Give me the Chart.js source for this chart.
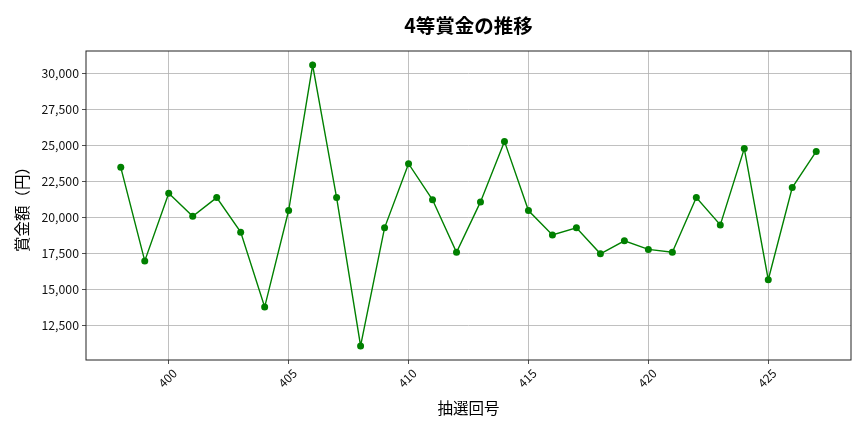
<!DOCTYPE html>
<html>
<head>
<meta charset="utf-8">
<script src="https://cdn.jsdelivr.net/npm/chart.js@4/dist/chart.umd.min.js"></script>
<style>
  html, body { margin: 0; padding: 0; background: #fff; }
  #wrap { width: 864px; height: 432px; }
</style>
</head>
<body>
<div id="wrap"><canvas id="prizeChart"></canvas></div>
<script>
const rounds = [398, 399, 400, 401, 402, 403, 404, 405, 406, 407,
                408, 409, 410, 411, 412, 413, 414, 415, 416, 417,
                418, 419, 420, 421, 422, 423, 424, 425, 426, 427];
const prizes = [23500, 17000, 21700, 20100, 21400, 19000, 13800, 20500, 30600, 21400,
                11100, 19300, 23750, 21250, 17600, 21100, 25300, 20500, 18800, 19300,
                17500, 18400, 17800, 17600, 21400, 19500, 24800, 15700, 22100, 24600];
const xTicks = [400, 405, 410, 415, 420, 425];
const yTicks = [12500, 15000, 17500, 20000, 22500, 25000, 27500, 30000];

const FONT = "'Noto Sans CJK JP', 'Noto Sans', sans-serif";

// draws the box round the plot area
const frame = {
    id: 'frame',
    afterDraw(chart) {
        const { ctx, chartArea: a } = chart;
        ctx.save();
        ctx.strokeStyle = '#222';
        ctx.lineWidth = 1;
        ctx.strokeRect(a.left, a.top, a.right - a.left, a.bottom - a.top);
        ctx.restore();
    }
};

const ctx = document.getElementById('prizeChart').getContext('2d');
new Chart(ctx, {
    type: 'line',
    data: {
        datasets: [{
            data: rounds.map((r, i) => ({ x: r, y: prizes[i] })),
            borderColor: '#008000',
            backgroundColor: '#008000',
            borderWidth: 1.4,
            pointRadius: 3.5,
            pointBorderWidth: 0,
            pointHoverRadius: 3.5,
            tension: 0
        }]
    },
    options: {
        responsive: true,
        maintainAspectRatio: false,
        animation: false,
        layout: { padding: { left: 0, right: 13, top: 0, bottom: 0 } },
        plugins: {
            legend: { display: false },
            tooltip: { enabled: false },
            title: {
                display: true,
                text: '4等賞金の推移',
                fullSize: false,
                color: '#000',
                font: { family: FONT, size: 19.5, weight: 'bold' },
                padding: { top: 14, bottom: 13.6 }
            }
        },
        scales: {
            x: {
                type: 'linear',
                min: 396.55,
                max: 428.45,
                afterBuildTicks: s => { s.ticks = xTicks.map(v => ({ value: v })); },
                afterFit: s => { s.height = 72; },
                grid: { color: '#b0b0b0', lineWidth: 0.8, tickColor: '#222', tickLength: 4 },
                border: { display: false },
                ticks: {
                    color: '#111',
                    font: { family: FONT, size: 12 },
                    minRotation: 45,
                    maxRotation: 45,
                    padding: 2,
                    labelOffset: 6
                },
                title: {
                    display: true,
                    text: '抽選回号',
                    color: '#000',
                    font: { family: FONT, size: 15.5 },
                    padding: { top: 0, bottom: 15 }
                }
            },
            y: {
                min: 10125,
                max: 31575,
                afterBuildTicks: s => { s.ticks = yTicks.map(v => ({ value: v })); },
                afterFit: s => { s.width = 86; },
                grid: { color: '#b0b0b0', lineWidth: 0.8, tickColor: '#222', tickLength: 4 },
                border: { display: false },
                ticks: {
                    color: '#111',
                    font: { family: FONT, size: 12.3 },
                    padding: 3,
                    callback: v => v.toLocaleString('en-US')
                },
                title: {
                    display: true,
                    text: '賞金額（円）',
                    color: '#000',
                    font: { family: FONT, size: 15.5 },
                    padding: { top: 13, bottom: 0 }
                }
            }
        }
    },
    plugins: [frame]
});
</script>
</body>
</html>
